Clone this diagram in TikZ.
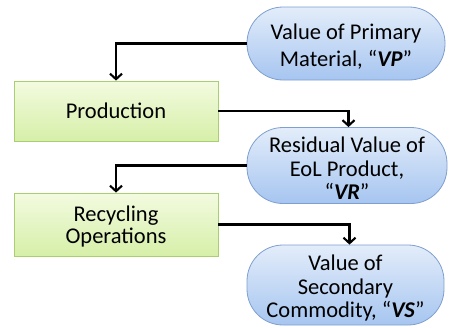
\documentclass[tikz,border=0pt]{standalone}
\usepackage{fontspec}
\setmainfont{Carlito}
\usetikzlibrary{arrows.meta}
\definecolor{valedge}{HTML}{7E9FCF}
\definecolor{valtop}{HTML}{E3EDFA}
\definecolor{valbot}{HTML}{A6C5F0}
\definecolor{procedge}{HTML}{A9CF72}
\definecolor{proctop}{HTML}{F3FBE0}
\definecolor{procbot}{HTML}{D6EFA8}
\tikzset{
  valuebox/.style={draw=valedge, line width=0.8pt, rounded corners=36pt,
    top color=valtop, bottom color=valbot, inner sep=0pt},
  procbox/.style={draw=procedge, line width=0.8pt,
    top color=proctop, bottom color=procbot, inner sep=0pt,
    minimum width=204pt},
  boxtext/.style={align=center, inner sep=0pt,
    font=\fontsize{22.5}{23.5}\selectfont},
  flow/.style={line width=2.1pt, -{Straight Barb[length=5.5pt,width=12pt,line width=2.1pt]}}
}
\begin{document}
\begin{tikzpicture}[x=1pt,y=-1pt]
  \useasboundingbox (0,0) rectangle (449,327);
  % value nodes on the right
  \node[valuebox, minimum width=198pt, minimum height=73pt] (vp) at (346,43.5) {};
  \node[valuebox, minimum width=200pt, minimum height=76pt] (vr) at (347,165.5) {};
  \node[valuebox, minimum width=197pt, minimum height=80pt] (vs) at (345.5,285) {};
  % process nodes on the left
  \node[procbox, minimum height=60pt] (prod) at (116,111) {};
  \node[procbox, minimum height=63pt] (rec) at (116,224.5) {};
  % texts
  \node[boxtext, font=\fontsize{22.5}{27}\selectfont] (vpt) at ([yshift=-3pt]vp.center)
    {Value of Primary\\Material, “\textbf{\textit{VP}}”};
  \node[boxtext] (vrt) at ([yshift=-3pt]vr.center)
    {Residual Value of\\EoL Product,\\“\textbf{\textit{VR}}”};
  \node[boxtext] (vst) at ([yshift=-3pt]vs.center)
    {Value of\\Secondary\\Commodity, “\textbf{\textit{VS}}”};
  \node[boxtext] (prodt) at (prod.center) {Production};
  \node[boxtext, font=\fontsize{22.5}{22}\selectfont] (rect) at ([yshift=-2pt]rec.center)
    {Recycling\\Operations};
  % flows
  \draw[flow] (vp.west) -| (prod.north);
  \draw[flow] (prod.east) -| ([xshift=1.5pt]vr.north);
  \draw[flow] (vr.west) -| (rec.north);
  \draw[flow] (rec.east) -| ([xshift=4pt]vs.north);
\end{tikzpicture}
\end{document}
